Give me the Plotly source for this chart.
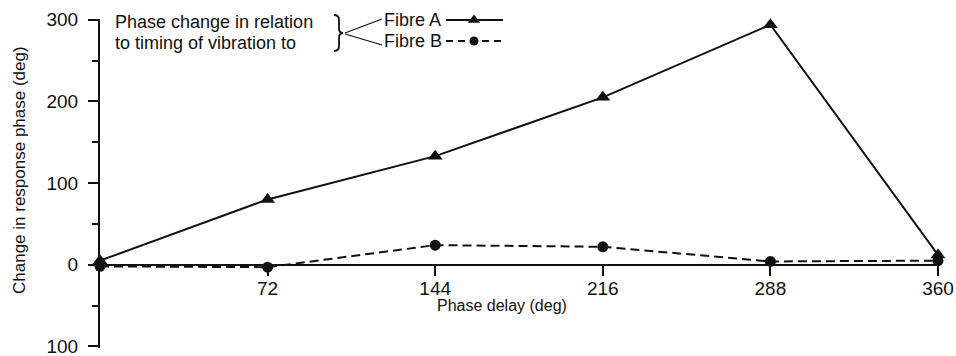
import plotly.graph_objects as go

# Phase delay of the vibration (deg)
phase_delay = [0, 72, 144, 216, 288, 360]
# Change in response phase (deg) for each fibre
fibre_a = [5, 80, 133, 205, 294, 12]
fibre_b = [-2, -3, 24, 22, 4, 5]

y_tickvals = [-100, 0, 100, 200, 300]
y_ticktext = ["100", "0", "100", "200", "300"]
y_minor = [-50, 50, 150, 250]
x_tickvals = [72, 144, 216, 288, 360]

W, H = 956, 356
L, R, T, B = 100, 18, 19, 8
FONT = "Liberation Sans, Arial, Helvetica, sans-serif"
INK = "#111111"


def px(x):
    return (x - L) / (W - L - R)


def py(y):
    return (H - B - y) / (H - T - B)


fig = go.Figure()

fig.add_trace(go.Scatter(
    x=phase_delay, y=fibre_a, mode="lines+markers",
    line=dict(color=INK, width=2),
    marker=dict(symbol="triangle-up", size=13, color=INK),
    cliponaxis=False, showlegend=False,
))
fig.add_trace(go.Scatter(
    x=phase_delay, y=fibre_b, mode="lines+markers",
    line=dict(color=INK, width=2, dash="9px,5px"),
    marker=dict(symbol="circle", size=11, color=INK),
    cliponaxis=False, showlegend=False,
))

# Key: label block, brace and leader lines
fig.add_annotation(x=px(113), y=py(22), xref="paper", yref="paper",
                   text="Phase change in relation", showarrow=False,
                   xanchor="left", yanchor="middle",
                   font=dict(family=FONT, size=18, color=INK))
fig.add_annotation(x=px(113), y=py(43), xref="paper", yref="paper",
                   text="to timing of vibration to", showarrow=False,
                   xanchor="left", yanchor="middle",
                   font=dict(family=FONT, size=18, color=INK))

brace = (f"M {px(334)},{py(15)} Q {px(339)},{py(15)} {px(339)},{py(20)} "
         f"L {px(339)},{py(28)} Q {px(339)},{py(33)} {px(343)},{py(33)} "
         f"Q {px(339)},{py(33)} {px(339)},{py(38)} "
         f"L {px(339)},{py(46)} Q {px(339)},{py(51)} {px(334)},{py(51)}")
fig.add_shape(type="path", path=brace, xref="paper", yref="paper",
              line=dict(color=INK, width=1.8))
fig.add_shape(type="line", xref="paper", yref="paper",
              x0=px(345), y0=py(33), x1=px(382), y1=py(19),
              line=dict(color=INK, width=1.3))
fig.add_shape(type="line", xref="paper", yref="paper",
              x0=px(345), y0=py(34), x1=px(382), y1=py(45),
              line=dict(color=INK, width=1.3))

fig.add_annotation(x=px(382), y=py(20), xref="paper", yref="paper",
                   text="Fibre A", showarrow=False, xanchor="left",
                   yanchor="middle", font=dict(family=FONT, size=18, color=INK))
fig.add_annotation(x=px(382), y=py(41), xref="paper", yref="paper",
                   text="Fibre B", showarrow=False, xanchor="left",
                   yanchor="middle", font=dict(family=FONT, size=18, color=INK))

# Key samples
fig.add_trace(go.Scatter(
    x=[px(446), px(503)], y=[py(20), py(20)], xaxis="x2", yaxis="y2",
    mode="lines", line=dict(color=INK, width=2), showlegend=False,
    cliponaxis=False, hoverinfo="skip"))
fig.add_trace(go.Scatter(
    x=[px(474)], y=[py(20)], xaxis="x2", yaxis="y2", mode="markers",
    marker=dict(symbol="triangle-up", size=11, color=INK),
    showlegend=False, cliponaxis=False, hoverinfo="skip"))
fig.add_trace(go.Scatter(
    x=[px(446), px(503)], y=[py(41), py(41)], xaxis="x2", yaxis="y2",
    mode="lines", line=dict(color=INK, width=2, dash="7px,5px"),
    showlegend=False, cliponaxis=False, hoverinfo="skip"))
fig.add_trace(go.Scatter(
    x=[px(474)], y=[py(41)], xaxis="x2", yaxis="y2", mode="markers",
    marker=dict(symbol="circle", size=9, color=INK),
    showlegend=False, cliponaxis=False, hoverinfo="skip"))

# Axis titles
fig.add_annotation(x=px(19), y=py(170), xref="paper", yref="paper",
                   text="Change in response phase (deg)", textangle=-90,
                   xanchor="center", yanchor="middle",
                   showarrow=False, font=dict(family=FONT, size=17, color=INK))
fig.add_annotation(x=px(502), y=py(305), xref="paper", yref="paper",
                   text="Phase delay (deg)", showarrow=False,
                   xanchor="center", yanchor="middle",
                   font=dict(family=FONT, size=16, color=INK))

y_range = [-102, 301]
zero_frac = (0 - y_range[0]) / (y_range[1] - y_range[0])

fig.update_layout(
    width=W, height=H,
    margin=dict(l=L, r=R, t=T, b=B, autoexpand=False),
    paper_bgcolor="white", plot_bgcolor="white",
    font=dict(family=FONT, size=18, color=INK),
    xaxis=dict(
        range=[0, 360], anchor="free", position=zero_frac,
        showline=True, linecolor=INK, linewidth=2,
        ticks="outside", ticklen=10, tickwidth=2, tickcolor=INK,
        tickvals=x_tickvals, showgrid=False, zeroline=False,
        ticklabelstandoff=-4, automargin=False,
        tickfont=dict(family=FONT, size=19, color=INK),
    ),
    yaxis=dict(
        range=y_range, showline=True, linecolor=INK, linewidth=2,
        ticks="outside", ticklen=10, tickwidth=2, tickcolor=INK,
        tickvals=y_tickvals, ticktext=y_ticktext,
        minor=dict(tickvals=y_minor, ticks="outside", ticklen=6,
                   tickwidth=2, tickcolor=INK),
        showgrid=False, zeroline=False, ticklabelstandoff=6,
        ticklabeloverflow="allow", automargin=False,
        tickfont=dict(family=FONT, size=19, color=INK),
    ),
    xaxis2=dict(range=[0, 1], overlaying="x", visible=False, anchor="y2"),
    yaxis2=dict(range=[0, 1], overlaying="y", visible=False, anchor="x2"),
)

fig.write_html("out.html")
